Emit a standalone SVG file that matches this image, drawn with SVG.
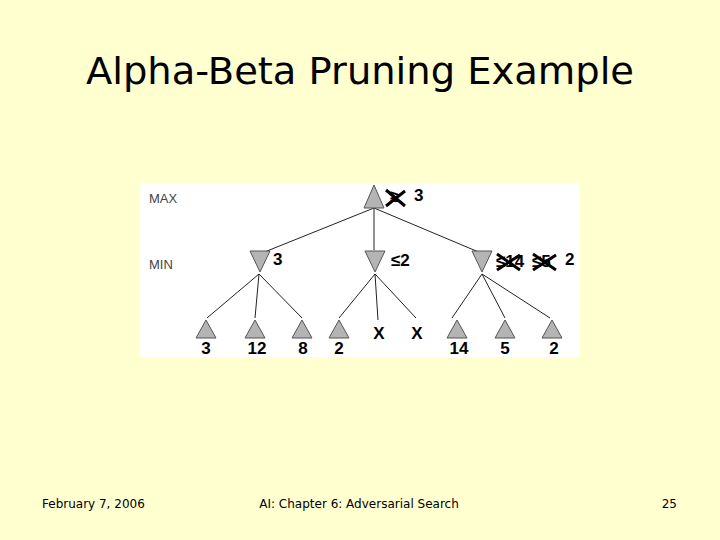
<svg xmlns="http://www.w3.org/2000/svg" width="720" height="540" viewBox="0 0 720 540">
<style>
.n{fill:#b4b4b4;stroke:#555;stroke-width:1}
.e{stroke:#222;stroke-width:1;fill:none}
.t{font-family:"Liberation Sans",Arial,sans-serif;fill:#000}
.v{font-size:17px;font-weight:bold}
.lbl{font-size:13px;fill:#444}
.x{stroke:#000;stroke-width:3;fill:none}
.f{font-family:"DejaVu Sans",Tahoma,sans-serif;font-size:12px;fill:#000}
</style>
<rect width="720" height="540" fill="#ffffd0"/>
<text x="360" y="84" text-anchor="middle" font-family="DejaVu Sans,Tahoma,sans-serif" font-size="38" textLength="548" lengthAdjust="spacingAndGlyphs">Alpha-Beta Pruning Example</text>
<rect x="140" y="183" width="440" height="174" fill="#fff"/>
<text class="t lbl" x="149" y="203">MAX</text>
<text class="t lbl" x="149" y="269">MIN</text>
<g id="connectors">
<path class="e" d="M374 208L262 253M374 208V250M374 208L481 253"/>
<path class="e" d="M259 274L207 318M259 274L255 318M259 274L302 318"/>
<path class="e" d="M375 274L339 318M375 274L378 320M375 274L416 318"/>
<path class="e" d="M482 274L452 318M482 274L505 318M482 274L550 318"/>
</g>
<g id="root"><path class="n" d="M374 185L384 208H364Z"/>
<text class="t v" x="390" y="202">≥</text><path class="x" d="M386 190L405 206M386 206L405 191"/><text class="t v" x="414" y="201">3</text></g>
<g id="minA"><path class="n" d="M250 251H270L260 272Z"/><text class="t v" x="273" y="265">3</text></g>
<g id="minB"><path class="n" d="M365 251H385L375 272Z"/><text class="t v" x="391" y="266">≤2</text></g>
<g id="minC"><path class="n" d="M472 251H492L482 272Z"/><text class="t v" x="496" y="267">≤14</text><path class="x" d="M497 254L520 270M497 270L520 255"/><text class="t v" x="532" y="267">≤5</text><path class="x" d="M533 254L556 270M533 270L556 255"/><text class="t v" x="565" y="265">2</text></g>
<g id="l1"><path class="n" d="M206 320L216 338H196Z"/><text class="t v" x="206" y="354" text-anchor="middle">3</text></g>
<g id="l2"><path class="n" d="M255 320L265 338H245Z"/><text class="t v" x="257" y="354" text-anchor="middle">12</text></g>
<g id="l3"><path class="n" d="M302 320L312 338H292Z"/><text class="t v" x="303" y="354" text-anchor="middle">8</text></g>
<g id="l4"><path class="n" d="M339 320L349 338H329Z"/><text class="t v" x="339" y="354" text-anchor="middle">2</text></g>
<g id="l5"><text class="t v" x="379" y="339" text-anchor="middle">X</text></g>
<g id="l6"><text class="t v" x="417" y="339" text-anchor="middle">X</text></g>
<g id="l7"><path class="n" d="M457 320L467 338H447Z"/><text class="t v" x="459" y="354" text-anchor="middle">14</text></g>
<g id="l8"><path class="n" d="M505 320L515 338H495Z"/><text class="t v" x="505" y="354" text-anchor="middle">5</text></g>
<g id="l9"><path class="n" d="M552 320L562 338H542Z"/><text class="t v" x="554" y="354" text-anchor="middle">2</text></g>
<text class="f" x="42" y="508">February 7, 2006</text>
<text class="f" x="359" y="508" text-anchor="middle">AI: Chapter 6: Adversarial Search</text>
<text class="f" x="677" y="508" text-anchor="end">25</text>
</svg>
